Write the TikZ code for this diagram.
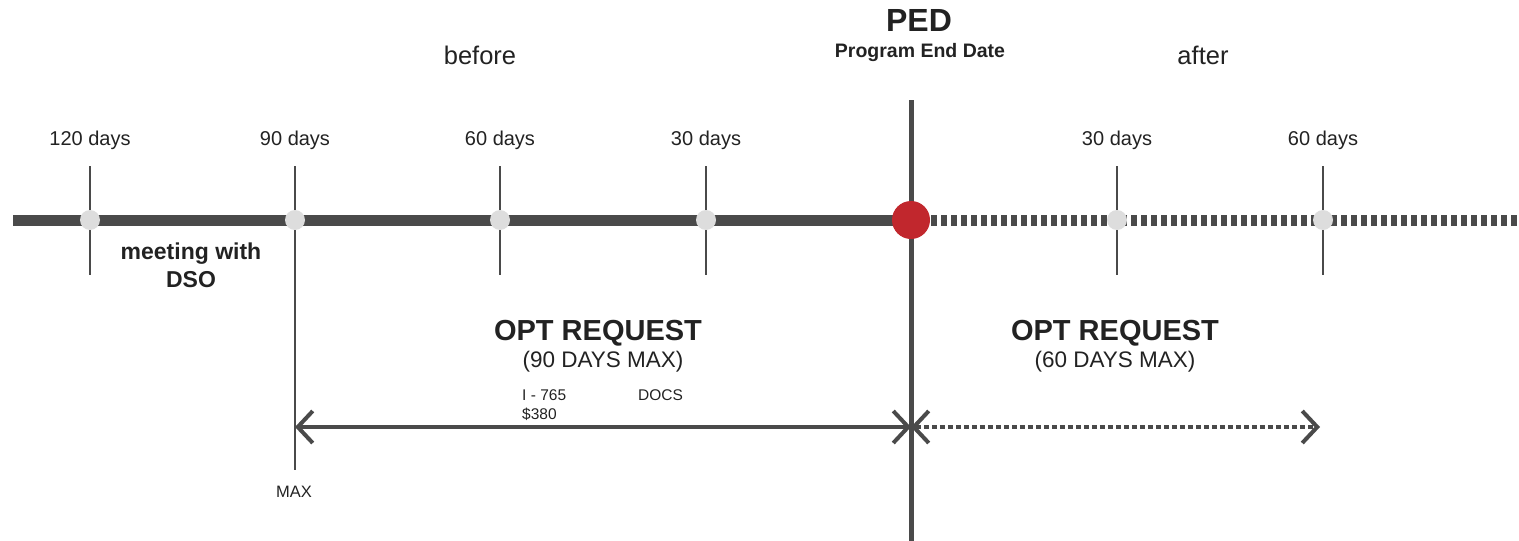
\documentclass[tikz,border=0pt]{standalone}
\usepackage{fontspec}
\setmainfont{Liberation Sans}
\usepackage{tikz}
\usetikzlibrary{arrows.meta,positioning}
\definecolor{linegray}{HTML}{4A4A4A}
\definecolor{dotgray}{HTML}{DDDDDD}
\definecolor{pedred}{HTML}{C1272D}
\definecolor{inkgray}{HTML}{222222}

\tikzset{
  daylabel/.style={font=\fontsize{20}{22}\selectfont,text=inkgray},
  sidelabel/.style={font=\fontsize{25.5}{27}\selectfont,text=inkgray},
  smalllabel/.style={font=\fontsize{15.5}{17}\selectfont,text=inkgray,inner sep=0pt},
  optlabel/.style={font=\fontsize{29}{31}\selectfont\bfseries,text=inkgray},
  maxlabel/.style={font=\fontsize{22.5}{24}\selectfont,text=inkgray},
  tickline/.style={draw=linegray,line width=2pt},
  daydot/.style={circle,fill=dotgray,minimum size=20pt,inner sep=0pt},
  spanarrow/.style={draw=linegray,line width=4pt,{Straight Barb[length=15pt,width=32pt,line width=4pt]}-{Straight Barb[length=15pt,width=32pt,line width=4pt]}}
}

\begin{document}
\begin{tikzpicture}[x=1pt,y=-1pt]
\useasboundingbox (0,0) rectangle (1519,541);
% axis
\coordinate (start) at (13,220);
\coordinate (finish) at (1519,220);
\coordinate (ped) at (911,220);
\draw[linegray,line width=11pt] (start) -- (ped);
\draw[linegray,line width=11pt,dash pattern=on 6pt off 4pt] (ped) -- (finish);
% ticks
\foreach \name/\xx/\txt in {d120/90/120 days,d90/295/90 days,d60/500/60 days,d30/706/30 days,a30/1117/30 days,a60/1323/60 days}{
  \node[daylabel] (\name lbl) at (\xx,140) {\txt};
  \coordinate (\name top) at (\xx,166);
  \coordinate (\name bot) at (\xx,275);
  \draw[tickline] (\name top) -- (\name bot);
  \node[daydot] (\name) at (\xx,220) {};
}
\coordinate (maxbot) at (295,470);
\draw[tickline] (d90bot) -- (maxbot);
% PED line and dot
\coordinate (pedtop) at (911,100);
\coordinate (pedbot) at (911,541);
\draw[linegray,line width=5pt] (pedtop) -- (pedbot);
\node[circle,fill=pedred,minimum size=38pt,inner sep=0pt] (peddot) at (ped) {};
% headers
\node[font=\fontsize{32}{34}\selectfont\bfseries,text=inkgray] (pedlbl) at (919,20) {PED};
\node[font=\fontsize{19.5}{21}\selectfont\bfseries,text=inkgray] (pedsub) at (920,52) {Program End Date};
\node[sidelabel] (before) at (480,55) {before};
\node[sidelabel] (after) at (1203,55) {after};
% meeting
\node[font=\fontsize{23}{28}\selectfont\bfseries,text=inkgray,align=center] (dso) at (191,265) {meeting with\\DSO};
% requests
\node[optlabel] (optpre) at (598,333) {OPT REQUEST};
\node[maxlabel] (maxpre) at (603,362) {(90 DAYS MAX)};
\node[optlabel] (optpost) at (1115,333) {OPT REQUEST};
\node[maxlabel] (maxpost) at (1115,362) {(60 DAYS MAX)};
\node[smalllabel,anchor=west] (form) at (522,395) {I - 765};
\node[smalllabel,anchor=west] (fee) at (522,414) {\$380};
\node[smalllabel,anchor=west] (docs) at (638,395) {DOCS};
\node[font=\fontsize{16.5}{18}\selectfont,text=inkgray,inner sep=0pt] (maxnote) at (294,492) {MAX};
% spans
\coordinate (spanl) at (295,427);
\coordinate (spanm) at (911,427);
\coordinate (spanr) at (1320,427);
\draw[spanarrow] (spanl) -- (spanm);
\draw[draw=linegray,line width=4pt,dash pattern=on 5pt off 3pt,{Straight Barb[length=15pt,width=32pt,line width=4pt]}-{Straight Barb[length=15pt,width=32pt,line width=4pt]}] (spanm) -- (spanr);
\end{tikzpicture}
\end{document}
